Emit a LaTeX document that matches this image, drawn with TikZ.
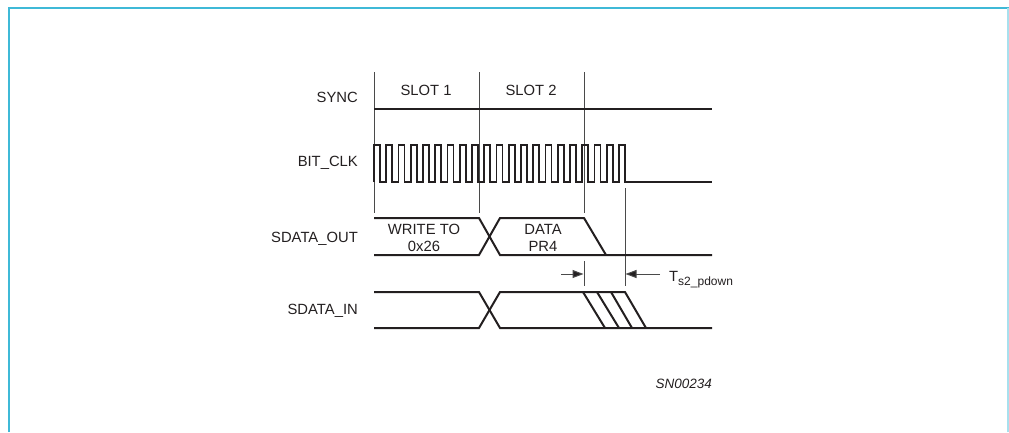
\documentclass[tikz,border=0pt]{standalone}
\usepackage{fontspec}
\setmainfont{Liberation Sans}
\usetikzlibrary{arrows.meta}
\definecolor{framecyan}{HTML}{3FB9D7}
\definecolor{framelight}{HTML}{A8E0EE}
\definecolor{sig}{HTML}{231F20}
\definecolor{guide}{HTML}{4A4A4A}
\tikzset{
  signal/.style={draw=sig, line width=2pt, line join=miter},
  clk/.style={draw=sig, line width=1.6pt, line join=miter},
  guideline/.style={draw=guide, line width=1pt},
  lbl/.style={font=\fontsize{14.8}{17}\selectfont, text=sig, inner sep=0pt},
  siglabel/.style={lbl, anchor=east},
  dimarrow/.style={draw=guide, line width=1pt, -{Triangle[length=11pt,width=8pt,fill=sig]}},
}
\begin{document}
\begin{tikzpicture}[x=1pt,y=-1pt]
\useasboundingbox (0,0) rectangle (1009,432);
% frame
\draw[framecyan, line width=1.8pt] (9,432) -- (9,8) -- (1009,8);
\draw[framelight, line width=1.5pt] (1008,8) -- (1008,432);

% signal names
\node[siglabel] (lsync) at (358,97) {SYNC};
\node[siglabel] (lclk) at (358,163) {BIT\_CLK};
\node[siglabel] (lout) at (358,239) {SDATA\_OUT};
\node[siglabel] (lin) at (358,311) {SDATA\_IN};

% guide lines
\draw[guideline] (374,72) -- (374,213);
\draw[guideline] (479,72) -- (479,213);
\draw[guideline] (584,72) -- (584,213);
\draw[guideline] (584,261) -- (584,286);
\draw[guideline] (625,188) -- (625,286);

% slot labels
\node[lbl] (s1) at (426,90) {SLOT 1};
\node[lbl] (s2) at (531,90) {SLOT 2};

% SYNC
\draw[signal] (374,109) -- (712,109);

% BIT_CLK
\draw[clk] (374,182) \foreach \k in {0,...,20} {
  -- ({374+\k*12.25},182) -- ({374+\k*12.25},145) -- ({380+\k*12.25},145) -- ({380+\k*12.25},182)
} -- (712,182);

% SDATA_OUT
\draw[signal] (374,218) -- (479,218) -- (500,255) -- (712,255);
\draw[signal] (374,255) -- (479,255) -- (500,218) -- (584,218) -- (606,255);
\node[lbl, align=center] (w) at (424,237.5) {WRITE TO\\0x26};
\node[lbl, align=center] (d) at (543,237.5) {DATA\\PR4};

% timing arrows
\coordinate (a1s) at (561,274);
\coordinate (a1e) at (583.5,274);
\coordinate (a2s) at (660,274);
\coordinate (a2e) at (625.5,274);
\draw[dimarrow] (a1s) -- (a1e);
\draw[dimarrow] (a2s) -- (a2e);
\node[lbl, anchor=base west] (ts) at (669,281) {T\raisebox{-0.33em}{\fontsize{12}{13}\selectfont s2\_pdown}};

% SDATA_IN
\draw[signal] (374,292) -- (479,292) -- (500,328) -- (712,328);
\draw[signal] (374,328) -- (479,328) -- (500,292) -- (625,292) -- (646,328);
\draw[signal] (583,292) -- (605,328);
\draw[signal] (597,292) -- (619,328);
\draw[signal] (611,292) -- (632,328);

% figure id
\node[lbl, anchor=east, font=\fontsize{13.5}{15}\selectfont\itshape] (sn) at (712,384) {SN00234};
\end{tikzpicture}
\end{document}
